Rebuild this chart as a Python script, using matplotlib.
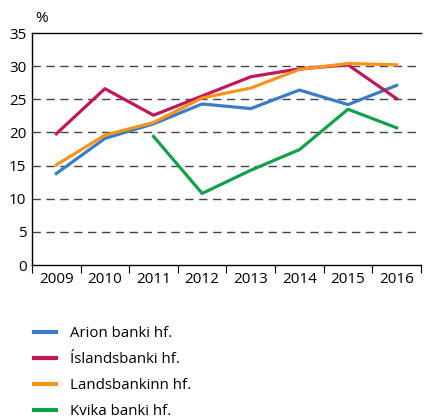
import matplotlib.pyplot as plt
import numpy as np

plt.rcParams["font.family"] = ["Open Sans", "DejaVu Sans"]

years = ["2009", "2010", "2011", "2012", "2013", "2014", "2015", "2016"]
arion = [13.8, 19.1, 21.3, 24.3, 23.6, 26.4, 24.2, 27.1]
islandsbanki = [19.8, 26.6, 22.6, 25.5, 28.4, 29.6, 30.2, 25.1]
landsbankinn = [15.1, 19.6, 21.5, 25.2, 26.7, 29.5, 30.4, 30.2]
kvika = [np.nan, np.nan, 19.4, 10.8, 14.3, 17.4, 23.5, 20.7]

series = [
    ("Arion banki hf.", arion, "#3b7dc4"),
    ("Íslandsbanki hf.", islandsbanki, "#c0175d"),
    ("Landsbankinn hf.", landsbankinn, "#f7941d"),
    ("Kvika banki hf.", kvika, "#12a04b"),
]

fig = plt.figure(figsize=(4.26, 4.18), dpi=100)
ax = fig.add_axes([0.0751, 0.366, 0.913, 0.555])

x = np.arange(len(years))
for name, vals, col in series:
    ax.plot(x, vals, color=col, lw=2.3, label=name)

ax.set_xlim(-0.5, len(years) - 0.5)
ax.set_ylim(0, 35)
ax.set_yticks(range(0, 36, 5))
for v in range(5, 35, 5):
    ax.axhline(v, color="#444444", lw=1, dashes=(6, 4), zorder=0)

ax.set_xticks(x)
ax.set_xticklabels(years)
ax.set_xticks(np.arange(-0.5, len(years), 1), minor=True)
ax.tick_params(axis="x", which="major", length=0, labelsize=11, pad=5)
ax.tick_params(axis="x", which="minor", length=6, width=0.8, direction="out")
ax.tick_params(axis="y", length=0, labelsize=11, pad=4)

ax.spines["right"].set_visible(False)
for s in ["left", "bottom", "top"]:
    ax.spines[s].set_linewidth(1)

fig.text(0.082, 0.955, "%", fontsize=11, ha="left", va="center")

leg = fig.legend(loc="upper left", bbox_to_anchor=(0.065, 0.234), frameon=False,
                 fontsize=10.8, handlelength=1.5, handletextpad=0.95,
                 labelspacing=0.74, borderaxespad=0)
for h in leg.get_lines():
    h.set_linewidth(3)

fig.savefig("out.png", dpi=100)
